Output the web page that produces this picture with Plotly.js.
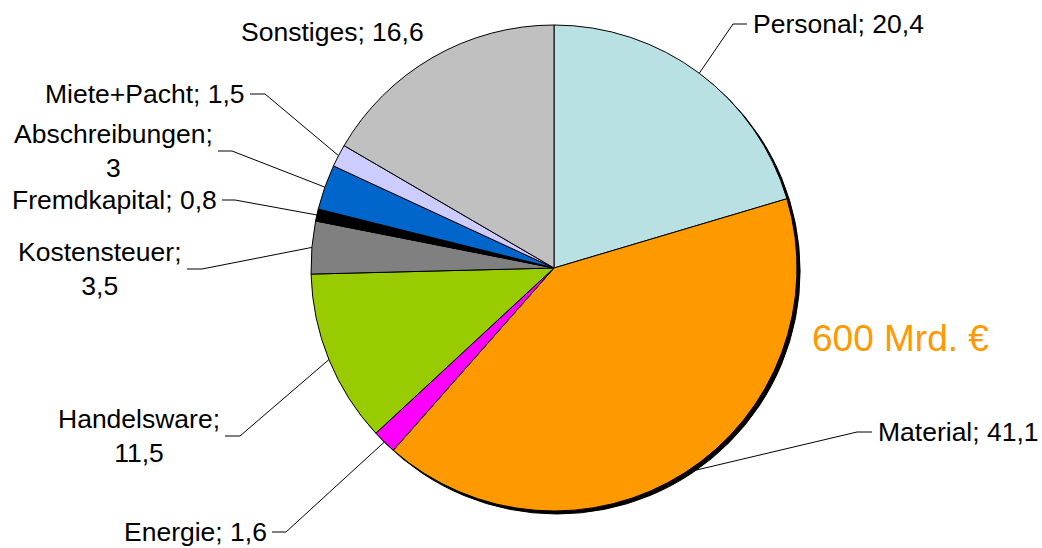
<!DOCTYPE html>
<html><head><meta charset="utf-8">
<script src="https://cdn.plot.ly/plotly-3.0.1.min.js"></script>
<style>html,body{margin:0;padding:0;background:#fff;overflow:hidden}</style>
</head><body><div id="chart" style="width:1042px;height:548px"></div>
<script>
// ---- data ----
const categories = ['Personal','Material','Energie','Handelsware','Kostensteuer','Fremdkapital','Abschreibungen','Miete+Pacht','Sonstiges'];
const values = [20.4, 41.1, 1.6, 11.5, 3.5, 0.8, 3, 1.5, 16.6];
const totalLabel = '600 Mrd. €';

// ---- styles ----
const colors = ['#b9e0e3','#ff9900','#ff00ff','#99cc00','#808080','#000000','#0066cc','#ccccff','#c0c0c0'];
const W = 1042, H = 548;
const cx = 554, cy = 268, R = 243;      // pie placement in pixels
const FONT = '"Liberation Sans", Arial, sans-serif';
// label placement (layout, pixels): elbow point, end of horizontal stub, side, wrap
const labelPlacement = [
  {elbow:[733,24],  end:747, side:'right', wrap:false},
  {elbow:[857,432], end:872, side:'right', wrap:false},
  {elbow:[286,532], end:272, side:'left',  wrap:false},
  {elbow:[240,436], end:225, side:'left',  wrap:true},
  {elbow:[202,269], end:187, side:'left',  wrap:true},
  {elbow:[235,200], end:222, side:'left',  wrap:false},
  {elbow:[232,151], end:218, side:'left',  wrap:true},
  {elbow:[265,94],  end:250, side:'left',  wrap:false},
  {free:[332,32]}
];

const px = x => x / W;
const py = y => 1 - y / H;
const fmt = v => String(v).replace('.', ',');

const total = values.reduce((a,b)=>a+b,0);
let cum = 0;
const shapes = [], annotations = [];
values.forEach((v,i) => {
  const mid = (cum + v/2) / total * 2 * Math.PI;
  cum += v;
  const ex = cx + R*Math.sin(mid), ey = cy - R*Math.cos(mid);
  const p = labelPlacement[i];
  const txt = categories[i] + ';' + (p.wrap ? '<br>' : ' ') + fmt(v);
  if (p.free) {
    annotations.push({x:px(p.free[0]), y:py(p.free[1]), xref:'paper', yref:'paper', text:txt,
      showarrow:false, xanchor:'center', yanchor:'middle', font:{family:FONT,size:26.5,color:'#000'}});
    return;
  }
  const [bx,by] = p.elbow;
  shapes.push({type:'path', xref:'paper', yref:'paper',
    path:`M ${px(ex)} ${py(ey)} L ${px(bx)} ${py(by)} L ${px(p.end)} ${py(by)}`,
    line:{color:'#000', width:1}});
  annotations.push({x:px(p.side==='left' ? p.end-3 : p.end+4), y:py(by), xref:'paper', yref:'paper',
    text:txt, showarrow:false, xanchor:p.side==='left'?'right':'left', yanchor:'middle', align:'center',
    font:{family:FONT,size:26.5,color:'#000'}});
});
annotations.push({x:px(900), y:py(338), xref:'paper', yref:'paper', text:totalLabel, showarrow:false,
  xanchor:'center', yanchor:'middle', font:{family:FONT,size:37,color:'#ff9900'}});

const dom = {x:[px(cx-R), px(cx+R)], y:[py(cy+R), py(cy-R)]};
const shadow = {type:'pie', values:[1], marker:{colors:['#000'], line:{color:'#000', width:1}}, textinfo:'none',
  hoverinfo:'skip', sort:false, showlegend:false,
  domain:{x:[dom.x[0]+3/W, dom.x[1]+3/W], y:[dom.y[0]-3/H, dom.y[1]-3/H]}};
const pie = {type:'pie', labels:categories, values:values, sort:false, direction:'clockwise', rotation:0,
  marker:{colors:colors, line:{color:'#000', width:1}}, textinfo:'none', showlegend:false, domain:dom};

Plotly.newPlot('chart', [shadow, pie], {
  width:W, height:H, margin:{l:0,r:0,t:0,b:0}, paper_bgcolor:'#fff', plot_bgcolor:'#fff',
  shapes:shapes, annotations:annotations, showlegend:false, font:{family:FONT}
}, {staticPlot:true, displayModeBar:false});
</script></body></html>
